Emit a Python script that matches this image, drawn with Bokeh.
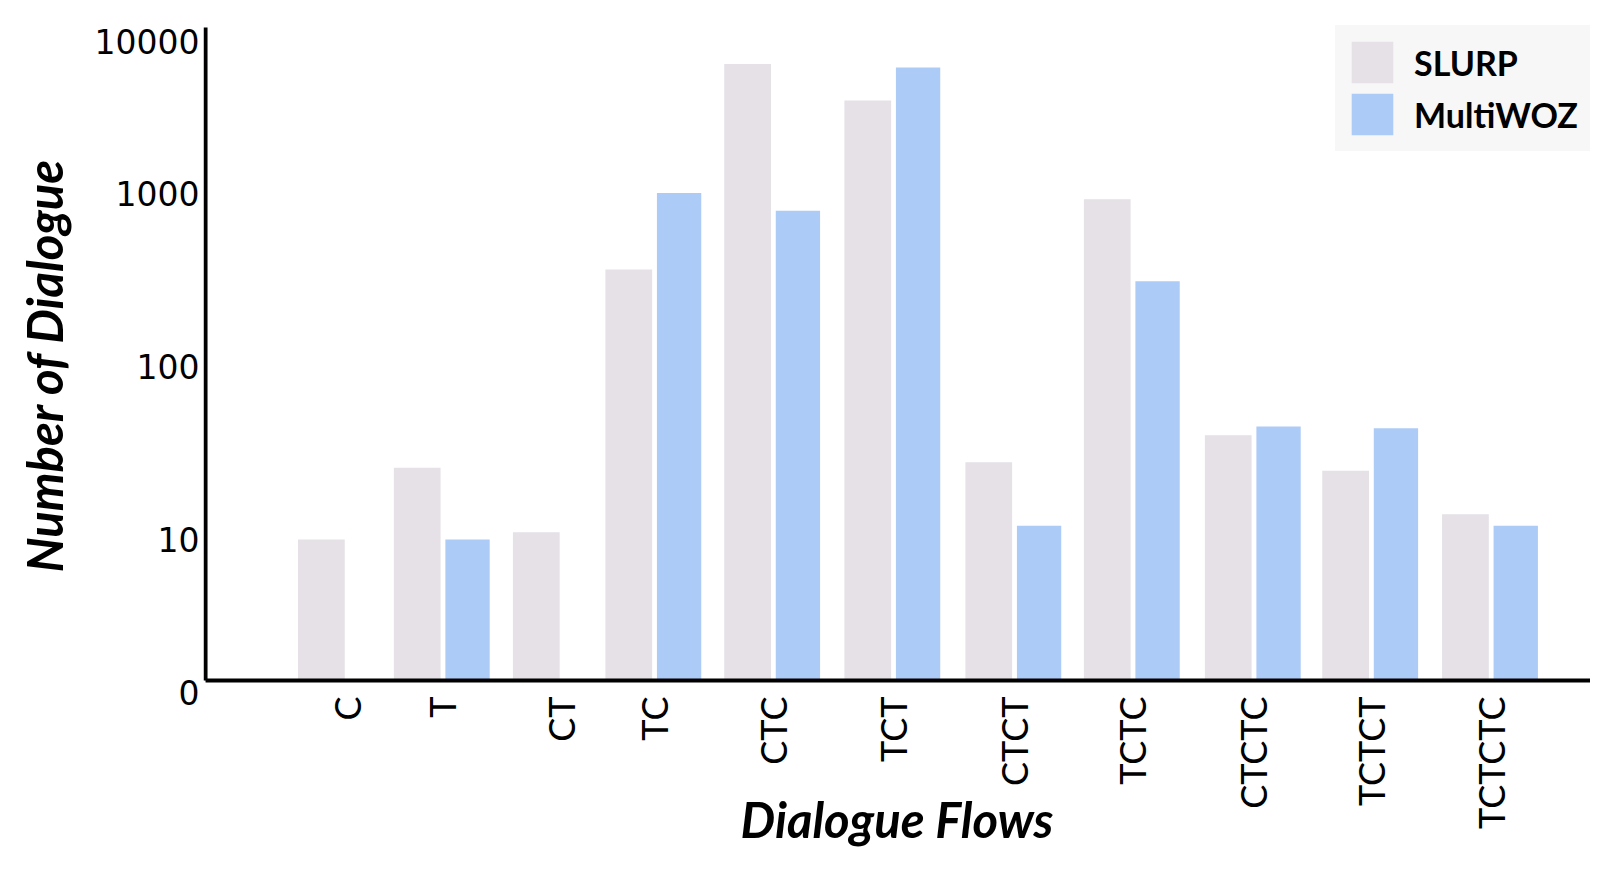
import numpy as np
from bokeh.embed import file_html
from bokeh.models import ColumnDataSource, FixedTicker, CustomJSTickFormatter, Range1d
from bokeh.plotting import figure
from bokeh.resources import INLINE
from bokeh.transform import dodge

flows = ["C", "T", "CT", "TC", "CTC", "TCT", "CTCT", "TCTC", "CTCTC", "TCTCT", "TCTCTC"]
slurp = [10, 26, 11, 362, 7100, 4080, 28, 920, 40, 25, 14]
multiwoz = [0, 10, 0, 1000, 790, 6730, 12, 310, 45, 44, 12]
y_tick_labels = ["0", "10", "100", "1000", "10000"]

# layout only: group centres on the x axis (the source chart spaces them unevenly)
group_pos = [0, 0.8, 1.794, 2.566, 3.558, 4.561, 5.571, 6.56, 7.57, 8.55, 9.55]
# frame height of each y tick label, the axis is a stretched log scale
tick_h = [-12, 141, 314, 487.5, 639]

AXIS_X = -1.177
X_END = 10.38
Y_TOP = 653


def to_height(v):
    # linear up to 10, then piecewise log between the tick labels
    v = np.asarray(v, dtype=float)
    h = np.interp(np.log10(np.maximum(v, 10)), [1, 2, 3, 4], tick_h[1:])
    return np.where(v < 10, v / 10 * tick_h[1], h)


src = ColumnDataSource(data=dict(
    pos=group_pos,
    flow=flows,
    slurp_h=to_height(slurp),
    multi_h=to_height(multiwoz),
))

p = figure(width=1590, height=865,
           x_range=Range1d(-1.194, 10.384), y_range=Range1d(-14, 655),
           output_backend="svg", toolbar_location=None,
           min_border_left=203, min_border_right=0,
           min_border_top=25, min_border_bottom=171)
p.outline_line_color = None
p.grid.visible = False

p.vbar(x=dodge("pos", -0.21, range=p.x_range), top="slurp_h", width=0.39, source=src,
       fill_color="#E5E1E7", line_color=None, legend_label="SLURP")
p.vbar(x=dodge("pos", 0.21, range=p.x_range), top="multi_h", width=0.37, source=src,
       fill_color="#ADCBF7", line_color=None, legend_label="MultiWOZ")

# axis lines drawn by hand so the "0" label can sit below the baseline
p.segment(x0=[AXIS_X, AXIS_X], y0=[0, 0], x1=[AXIS_X, X_END], y1=[Y_TOP, 0],
          line_width=4, line_color="black")

xa = p.xaxis[0]
xa.ticker = FixedTicker(ticks=group_pos)
xa.formatter = CustomJSTickFormatter(args=dict(names=flows), code="return names[index]")
xa.major_label_orientation = np.pi / 2
xa.axis_line_color = None
xa.major_tick_line_color = None
xa.minor_tick_line_color = None
xa.major_tick_out = 0
xa.major_label_standoff = 2
xa.major_label_text_font = "Lato"
xa.major_label_text_font_size = "36px"
xa.major_label_text_color = "black"
xa.axis_label = "Dialogue Flows"
xa.axis_label_text_font = "Lato"
xa.axis_label_text_font_style = "bold italic"
xa.axis_label_text_font_size = "49px"
xa.axis_label_text_color = "black"
xa.axis_label_standoff = -42

ya = p.yaxis[0]
ya.ticker = FixedTicker(ticks=tick_h)
ya.formatter = CustomJSTickFormatter(args=dict(names=y_tick_labels), code="return names[index]")
ya.axis_line_color = None
ya.major_tick_line_color = None
ya.minor_tick_line_color = None
ya.major_tick_out = 0
ya.major_label_standoff = 4
ya.major_label_text_font = "DejaVu Sans"
ya.major_label_text_font_size = "33px"
ya.major_label_text_color = "black"
ya.axis_label = "Number of  Dialogue"
ya.axis_label_text_font = "Lato"
ya.axis_label_text_font_style = "bold italic"
ya.axis_label_text_font_size = "49px"
ya.axis_label_text_color = "black"
ya.axis_label_standoff = 19

leg = p.legend[0]
leg.location = "top_right"
leg.margin = 0
leg.padding = 11
leg.spacing = 0
leg.glyph_width = 52
leg.glyph_height = 52
leg.label_standoff = 16
leg.label_width = 165
leg.label_text_font = "Lato"
leg.label_text_font_style = "bold"
leg.label_text_font_size = "34px"
leg.label_text_color = "black"
leg.background_fill_color = "#F7F7F7"
leg.background_fill_alpha = 1
# padding only counts when a border colour is set, so keep it but hide it
leg.border_line_color = "#F7F7F7"
leg.border_line_alpha = 0

open("out.html", "w").write(file_html(p, INLINE))
